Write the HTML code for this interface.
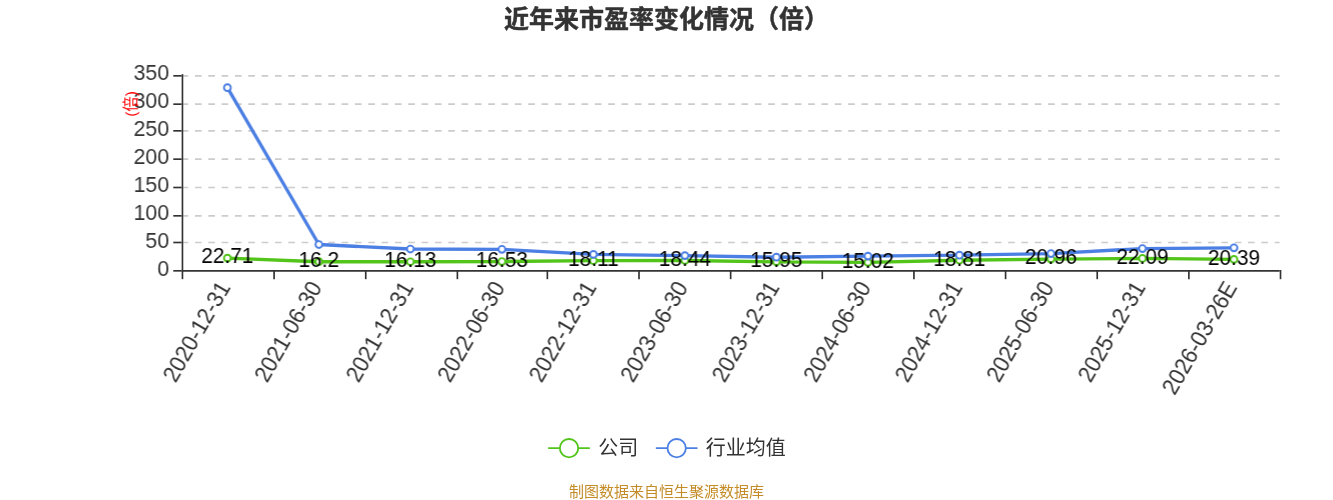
<!DOCTYPE html>
<html lang="zh"><head><meta charset="utf-8"><title>近年来市盈率变化情况（倍）</title>
<style>html,body{margin:0;padding:0;background:#fff;}svg{display:block;will-change:transform;}text{font-family:"Liberation Sans", "Noto Sans CJK SC", sans-serif;}</style></head><body>
<svg width="1333" height="500" viewBox="0 0 800 300" preserveAspectRatio="none">
<rect x="0" y="0" width="800" height="300" fill="#fff"/>
<text x="400" y="16.6" text-anchor="middle" font-size="15" font-weight="bold" fill="#333" stroke="#333" stroke-width="0.3" stroke-linejoin="round">近年来市盈率变化情况（倍）</text>
<g stroke="#ccc" stroke-width="1" stroke-dasharray="4 4" fill="none">
<line x1="109.00" y1="145.50" x2="768.00" y2="145.50"/>
<line x1="109.00" y1="129.50" x2="768.00" y2="129.50"/>
<line x1="109.00" y1="112.50" x2="768.00" y2="112.50"/>
<line x1="109.00" y1="95.50" x2="768.00" y2="95.50"/>
<line x1="109.00" y1="78.50" x2="768.00" y2="78.50"/>
<line x1="109.00" y1="62.50" x2="768.00" y2="62.50"/>
<line x1="109.00" y1="45.50" x2="768.00" y2="45.50"/>
</g>
<g stroke="#333" stroke-width="1" fill="none">
<line x1="109.50" y1="44.50" x2="109.50" y2="162.50"/>
<line x1="109.00" y1="162.50" x2="768.00" y2="162.50"/>
<line x1="104.00" y1="162.50" x2="109.00" y2="162.50"/>
<line x1="104.00" y1="145.50" x2="109.00" y2="145.50"/>
<line x1="104.00" y1="129.50" x2="109.00" y2="129.50"/>
<line x1="104.00" y1="112.50" x2="109.00" y2="112.50"/>
<line x1="104.00" y1="95.50" x2="109.00" y2="95.50"/>
<line x1="104.00" y1="78.50" x2="109.00" y2="78.50"/>
<line x1="104.00" y1="62.50" x2="109.00" y2="62.50"/>
<line x1="104.00" y1="45.50" x2="109.00" y2="45.50"/>
<line x1="109.50" y1="162.00" x2="109.50" y2="167.50"/>
<line x1="164.50" y1="162.00" x2="164.50" y2="167.50"/>
<line x1="219.50" y1="162.00" x2="219.50" y2="167.50"/>
<line x1="274.50" y1="162.00" x2="274.50" y2="167.50"/>
<line x1="328.50" y1="162.00" x2="328.50" y2="167.50"/>
<line x1="383.50" y1="162.00" x2="383.50" y2="167.50"/>
<line x1="438.50" y1="162.00" x2="438.50" y2="167.50"/>
<line x1="493.50" y1="162.00" x2="493.50" y2="167.50"/>
<line x1="548.50" y1="162.00" x2="548.50" y2="167.50"/>
<line x1="603.50" y1="162.00" x2="603.50" y2="167.50"/>
<line x1="658.50" y1="162.00" x2="658.50" y2="167.50"/>
<line x1="713.50" y1="162.00" x2="713.50" y2="167.50"/>
<line x1="768.50" y1="162.00" x2="768.50" y2="167.50"/>
</g>
<text transform="translate(101.50 165.50) scale(1 1.07)" text-anchor="end" font-size="12.8" fill="#333">0</text>
<text transform="translate(101.50 148.70) scale(1 1.07)" text-anchor="end" font-size="12.8" fill="#333">50</text>
<text transform="translate(101.50 131.90) scale(1 1.07)" text-anchor="end" font-size="12.8" fill="#333">100</text>
<text transform="translate(101.50 115.10) scale(1 1.07)" text-anchor="end" font-size="12.8" fill="#333">150</text>
<text transform="translate(101.50 98.30) scale(1 1.07)" text-anchor="end" font-size="12.8" fill="#333">200</text>
<text transform="translate(101.50 81.50) scale(1 1.07)" text-anchor="end" font-size="12.8" fill="#333">250</text>
<text transform="translate(101.50 64.70) scale(1 1.07)" text-anchor="end" font-size="12.8" fill="#333">300</text>
<text transform="translate(101.50 47.90) scale(1 1.07)" text-anchor="end" font-size="12.8" fill="#333">350</text>
<text transform="translate(81.75 62.35) rotate(-90)" text-anchor="middle" font-size="9.3" fill="#f00">(倍)</text>
<text transform="translate(136.26 171.00) rotate(-60) translate(0 2.80) scale(1 1.07)" text-anchor="end" font-size="13.05" fill="#333">2020-12-31</text>
<text transform="translate(191.18 171.00) rotate(-60) translate(0 2.80) scale(1 1.07)" text-anchor="end" font-size="13.05" fill="#333">2021-06-30</text>
<text transform="translate(246.09 171.00) rotate(-60) translate(0 2.80) scale(1 1.07)" text-anchor="end" font-size="13.05" fill="#333">2021-12-31</text>
<text transform="translate(301.01 171.00) rotate(-60) translate(0 2.80) scale(1 1.07)" text-anchor="end" font-size="13.05" fill="#333">2022-06-30</text>
<text transform="translate(355.93 171.00) rotate(-60) translate(0 2.80) scale(1 1.07)" text-anchor="end" font-size="13.05" fill="#333">2022-12-31</text>
<text transform="translate(410.84 171.00) rotate(-60) translate(0 2.80) scale(1 1.07)" text-anchor="end" font-size="13.05" fill="#333">2023-06-30</text>
<text transform="translate(465.76 171.00) rotate(-60) translate(0 2.80) scale(1 1.07)" text-anchor="end" font-size="13.05" fill="#333">2023-12-31</text>
<text transform="translate(520.67 171.00) rotate(-60) translate(0 2.80) scale(1 1.07)" text-anchor="end" font-size="13.05" fill="#333">2024-06-30</text>
<text transform="translate(575.59 171.00) rotate(-60) translate(0 2.80) scale(1 1.07)" text-anchor="end" font-size="13.05" fill="#333">2024-12-31</text>
<text transform="translate(630.51 171.00) rotate(-60) translate(0 2.80) scale(1 1.07)" text-anchor="end" font-size="13.05" fill="#333">2025-06-30</text>
<text transform="translate(685.42 171.00) rotate(-60) translate(0 2.80) scale(1 1.07)" text-anchor="end" font-size="13.05" fill="#333">2025-12-31</text>
<text transform="translate(740.34 171.00) rotate(-60) translate(0 2.80) scale(1 1.07)" text-anchor="end" font-size="13.05" fill="#333">2026-03-26E</text>
<polyline points="136.46,154.86 191.38,157.03 246.29,157.06 301.21,156.92 356.12,156.40 411.04,156.29 465.96,157.12 520.88,157.43 575.79,156.16 630.71,155.44 685.62,155.07 740.54,155.63" fill="none" stroke="#52c41a" stroke-width="2" stroke-linejoin="bevel"/>
<polyline points="136.46,52.60 191.38,146.71 246.29,149.41 301.21,149.58 356.12,152.64 411.04,153.36 465.96,154.33 520.88,153.66 575.79,153.12 630.71,152.15 685.62,149.15 740.54,148.68" fill="none" stroke="#4b7fe3" stroke-width="2" stroke-linejoin="bevel"/>
<g fill="#fff" stroke="#52c41a" stroke-width="1.15">
<circle cx="136.46" cy="154.86" r="2.05"/>
<circle cx="191.38" cy="157.03" r="2.05"/>
<circle cx="246.29" cy="157.06" r="2.05"/>
<circle cx="301.21" cy="156.92" r="2.05"/>
<circle cx="356.12" cy="156.40" r="2.05"/>
<circle cx="411.04" cy="156.29" r="2.05"/>
<circle cx="465.96" cy="157.12" r="2.05"/>
<circle cx="520.88" cy="157.43" r="2.05"/>
<circle cx="575.79" cy="156.16" r="2.05"/>
<circle cx="630.71" cy="155.44" r="2.05"/>
<circle cx="685.62" cy="155.07" r="2.05"/>
<circle cx="740.54" cy="155.63" r="2.05"/>
</g>
<g fill="#fff" stroke="#4b7fe3" stroke-width="1.15">
<circle cx="136.46" cy="52.60" r="2.05"/>
<circle cx="191.38" cy="146.71" r="2.05"/>
<circle cx="246.29" cy="149.41" r="2.05"/>
<circle cx="301.21" cy="149.58" r="2.05"/>
<circle cx="356.12" cy="152.64" r="2.05"/>
<circle cx="411.04" cy="153.36" r="2.05"/>
<circle cx="465.96" cy="154.33" r="2.05"/>
<circle cx="520.88" cy="153.66" r="2.05"/>
<circle cx="575.79" cy="153.12" r="2.05"/>
<circle cx="630.71" cy="152.15" r="2.05"/>
<circle cx="685.62" cy="149.15" r="2.05"/>
<circle cx="740.54" cy="148.68" r="2.05"/>
</g>
<text transform="translate(136.46 158.06) scale(1 1.07)" text-anchor="middle" font-size="12.5" fill="#000">22.71</text>
<text transform="translate(191.38 160.23) scale(1 1.07)" text-anchor="middle" font-size="12.5" fill="#000">16.2</text>
<text transform="translate(246.29 160.26) scale(1 1.07)" text-anchor="middle" font-size="12.5" fill="#000">16.13</text>
<text transform="translate(301.21 160.12) scale(1 1.07)" text-anchor="middle" font-size="12.5" fill="#000">16.53</text>
<text transform="translate(356.12 159.60) scale(1 1.07)" text-anchor="middle" font-size="12.5" fill="#000">18.11</text>
<text transform="translate(411.04 159.49) scale(1 1.07)" text-anchor="middle" font-size="12.5" fill="#000">18.44</text>
<text transform="translate(465.96 160.32) scale(1 1.07)" text-anchor="middle" font-size="12.5" fill="#000">15.95</text>
<text transform="translate(520.88 160.63) scale(1 1.07)" text-anchor="middle" font-size="12.5" fill="#000">15.02</text>
<text transform="translate(575.79 159.36) scale(1 1.07)" text-anchor="middle" font-size="12.5" fill="#000">18.81</text>
<text transform="translate(630.71 158.64) scale(1 1.07)" text-anchor="middle" font-size="12.5" fill="#000">20.96</text>
<text transform="translate(685.62 158.27) scale(1 1.07)" text-anchor="middle" font-size="12.5" fill="#000">22.09</text>
<text transform="translate(740.54 158.83) scale(1 1.07)" text-anchor="middle" font-size="12.5" fill="#000">20.39</text>
<line x1="329.00" y1="268.90" x2="354.00" y2="268.90" stroke="#52c41a" stroke-width="1"/>
<circle cx="341.50" cy="268.90" r="5.5" fill="#fff" stroke="#52c41a" stroke-width="1.1"/>
<text x="359.00" y="273.20" font-size="12" fill="#333">公司</text>
<line x1="393.60" y1="268.90" x2="418.60" y2="268.90" stroke="#4b7fe3" stroke-width="1"/>
<circle cx="406.10" cy="268.90" r="5.5" fill="#fff" stroke="#4b7fe3" stroke-width="1.1"/>
<text x="423.60" y="273.20" font-size="12" fill="#333">行业均值</text>
<text x="400" y="298" text-anchor="middle" font-size="9" fill="#c48c29">制图数据来自恒生聚源数据库</text>
</svg></body></html>
